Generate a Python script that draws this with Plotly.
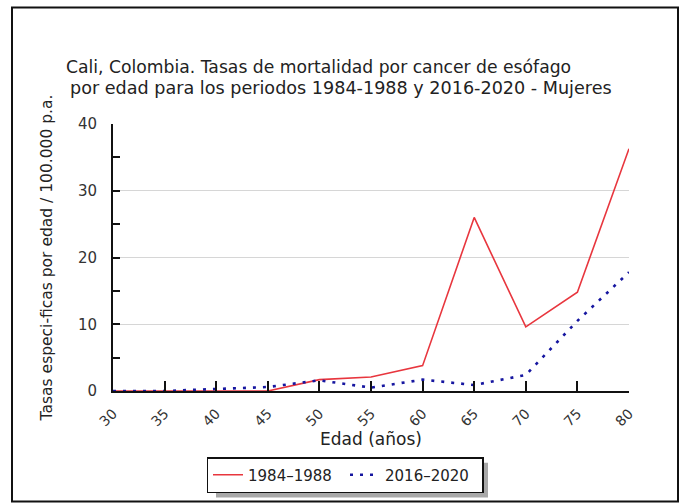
import plotly.graph_objects as go

ages = [30, 35, 40, 45, 50, 55, 60, 65, 70, 75, 80]
rates_1984_1988 = [0, 0, 0, 0, 1.7, 2.1, 3.8, 26.0, 9.6, 14.8, 36.3]
rates_2016_2020 = [0, 0, 0.3, 0.6, 1.6, 0.5, 1.7, 0.9, 2.4, 10.5, 17.8]
series_names = ["1984\u20131988", "2016\u20132020"]
y_ticks = [0, 10, 20, 30, 40]
x_ticks = [30, 35, 40, 45, 50, 55, 60, 65, 70, 75, 80]
title_lines = [
    "Cali, Colombia. Tasas de mortalidad por cancer de esófago",
    "por edad para los periodos 1984-1988 y 2016-2020 - Mujeres",
]

FONT = "DejaVu Sans"

fig = go.Figure()
fig.add_trace(go.Scatter(x=ages, y=rates_1984_1988, mode="lines", name=series_names[0],
                         line=dict(color="#e8363e", width=1.6)))
fig.add_trace(go.Scatter(x=ages, y=rates_2016_2020, mode="lines", name=series_names[1],
                         line=dict(color="#1616a0", width=2.6, dash="3px,7px")))

W, H = 681, 504
L, R, T, B = 113, 52, 124, 112
PW, PH = W - L - R, H - T - B


def px(x):
    return (x - L) / PW


def py(y):
    return (H - B - y) / PH


fig.update_layout(
    width=W, height=H,
    margin=dict(l=L, r=R, t=T, b=B),
    paper_bgcolor="white", plot_bgcolor="white",
    font=dict(family=FONT, color="#222", size=12),
    xaxis=dict(
        range=[30, 80], tickvals=x_ticks, tickangle=-45,
        ticks="inside", ticklen=10, tickwidth=1.5, tickcolor="#111",
        showline=True, linecolor="#111", linewidth=2,
        showgrid=False, zeroline=False,
        tickfont=dict(size=14, color="#333"),
        ticklabelstandoff=7,
        title=dict(text="Edad (años)", font=dict(size=17, color="#222"), standoff=3),
    ),
    yaxis=dict(
        range=[0, 40], tickvals=y_ticks,
        ticks="inside", ticklen=7, tickwidth=1.5, tickcolor="#111",
        minor=dict(dtick=5, ticks="inside", ticklen=7, tickwidth=1.5, tickcolor="#111", showgrid=False),
        showline=True, linecolor="#111", linewidth=2,
        showgrid=True, gridcolor="#d6d6d6", gridwidth=1, zeroline=False,
        tickfont=dict(size=15, color="#333"),
        ticklabelstandoff=11,
        title=dict(text="Tasas especi-ficas por edad / 100.000 p.a.", font=dict(size=15.5, color="#222"), standoff=21),
    ),
    legend=dict(
        orientation="h", x=px(345), xanchor="center", y=py(457), yanchor="top",
        bgcolor="white", bordercolor="#111", borderwidth=1.5,
        font=dict(size=15, color="#222"),
        itemwidth=30, entrywidth=92, entrywidthmode="pixels",
    ),
    annotations=[
        dict(text=title_lines[0], xref="paper", yref="paper", x=px(64), y=py(66.5),
             xanchor="left", yanchor="middle", showarrow=False,
             font=dict(family=FONT, size=17.2, color="#222")),
        dict(text=title_lines[1], xref="paper", yref="paper", x=px(68), y=py(87.5),
             xanchor="left", yanchor="middle", showarrow=False,
             font=dict(family=FONT, size=17.6, color="#222")),
    ],
    shapes=[
        dict(type="rect", xref="paper", yref="paper",
             x0=px(12), x1=px(678), y0=py(503), y1=py(7),
             line=dict(color="#111", width=2), layer="below"),
        dict(type="rect", xref="paper", yref="paper",
             x0=px(216), x1=px(488), y0=py(499), y1=py(464),
             fillcolor="#a8a8a8", line=dict(width=0), layer="above"),
    ],
)

fig.write_html("out.html", config={"displayModeBar": False},
               post_script="document.body.style.margin='0';document.body.style.overflow='hidden';")
